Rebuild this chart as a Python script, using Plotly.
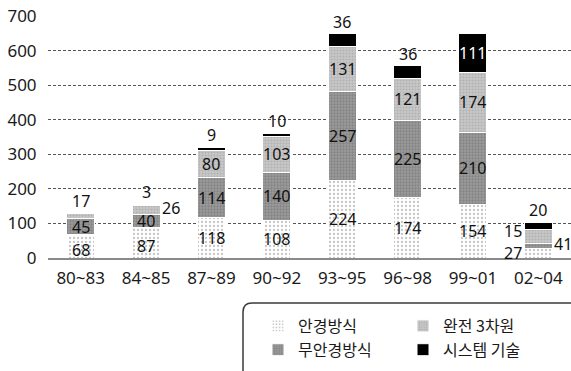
import plotly.graph_objects as go

categories = ["80~83", "84~85", "87~89", "90~92", "93~95", "96~98", "99~01", "02~04"]
series_names = ["안경방식", "무안경방식", "완전 3차원", "시스템 기술"]
glasses = [68, 87, 118, 108, 224, 174, 154, 27]
glassless = [45, 40, 114, 140, 257, 225, 210, 15]
full3d = [17, 26, 80, 103, 131, 121, 174, 41]
system = [0, 3, 9, 10, 36, 36, 111, 20]
y_ticks = [0, 100, 200, 300, 400, 500, 600, 700]

series_values = [glasses, glassless, full3d, system]

# styles
patterns = [
    dict(shape=".", bgcolor="#ffffff", fgcolor="#8a8a8a", size=4, solidity=0.25),
    dict(shape=".", bgcolor="#9c9c9c", fgcolor="#6a6a6a", size=3, solidity=0.45),
    dict(shape=".", bgcolor="#c8c8c8", fgcolor="#9a9a9a", size=3, solidity=0.4),
    None,
]
colors = ["#ffffff", "#8e8e8e", "#bdbdbd", "#000000"]
legend_ids = ["legend", "legend", "legend2", "legend2"]
label_colors = ["#111111", "#111111", "#111111", "#ffffff"]

NUM_FONT = "Noto Sans, DejaVu Sans, sans-serif"
KR_FONT = "Noto Sans CJK KR, Noto Sans, sans-serif"

fig = go.Figure()
for i, (name, vals) in enumerate(zip(series_names, series_values)):
    m = dict(color=colors[i], line=dict(color="#ffffff", width=1))
    if patterns[i]:
        m["pattern"] = patterns[i]
    fig.add_trace(go.Bar(
        x=categories, y=vals, name=name, marker=m, width=0.43,
        legend=legend_ids[i], showlegend=True,
    ))

# label placement overrides (series index, category index) -> style
BW = 14  # half bar in pixels
overrides = {
    (0, 0): dict(kind="in", yshift=-4),
    (0, 1): dict(kind="in", yshift=-3),
    (2, 0): dict(kind="above"),
    (2, 1): dict(kind="right", yshift=2),
    (3, 1): dict(kind="above"),
    (3, 2): dict(kind="above"),
    (3, 3): dict(kind="above"),
    (3, 4): dict(kind="above"),
    (3, 5): dict(kind="above"),
    (0, 7): dict(kind="left", yshift=0),
    (1, 7): dict(kind="left", yshift=15),
    (2, 7): dict(kind="right", yshift=-8),
    (3, 7): dict(kind="above"),
}

annotations = []
cum = [0] * len(categories)
for i, vals in enumerate(series_values):
    for j, v in enumerate(vals):
        base = cum[j]
        top = base + v
        cum[j] = top
        if v == 0:
            continue
        o = overrides.get((i, j), dict(kind="in"))
        kind = o["kind"]
        a = dict(x=categories[j], text=str(v), showarrow=False,
                 font=dict(family=NUM_FONT, size=16, color=label_colors[i]))
        if kind == "in":
            a.update(y=(base + top) / 2, yanchor="middle", xanchor="center",
                     yshift=o.get("yshift", 0))
        elif kind == "above":
            a.update(y=top, yanchor="bottom", xanchor="center", yshift=o.get("yshift", -1),
                     font=dict(family=NUM_FONT, size=16, color="#111111"))
        elif kind == "right":
            a.update(y=(base + top) / 2, yanchor="middle", xanchor="left",
                     xshift=BW, yshift=o.get("yshift", 0))
        elif kind == "left":
            a.update(y=(base + top) / 2, yanchor="middle", xanchor="right",
                     xshift=-BW, yshift=o.get("yshift", 0))
        annotations.append(a)

# legend frame (rounded, partly clipped by page edge)
L, T = 48, 16
PW, PH = 523, 242
def px(x):
    return (x - L) / PW
def py(y):
    return (T + PH - y) / PH
x0, x1, y0, y1, r = 243, 585, 303, 385, 9
path = (f"M {px(x0 + r)},{py(y0)} L {px(x1)},{py(y0)} L {px(x1)},{py(y1)} "
        f"L {px(x0 + r)},{py(y1)} Q {px(x0)},{py(y1)} {px(x0)},{py(y1 - r)} "
        f"L {px(x0)},{py(y0 + r)} Q {px(x0)},{py(y0)} {px(x0 + r)},{py(y0)} Z")

fig.update_layout(
    width=571, height=371,
    margin=dict(l=L, r=571 - L - PW, t=T, b=371 - T - PH),
    barmode="stack",
    plot_bgcolor="#ffffff", paper_bgcolor="#ffffff",
    font=dict(family=NUM_FONT, color="#1a1a1a"),
    xaxis=dict(
        type="category", range=[-0.5, 7.5],
        showgrid=False, showline=True, linecolor="#8a8a8a", linewidth=2,
        ticks="outside", ticklen=4, tickcolor="rgba(0,0,0,0)",
        tickfont=dict(family=NUM_FONT, size=17, color="#1a1a1a"),
    ),
    yaxis=dict(
        range=[0, 700], tickvals=y_ticks,
        showgrid=True, gridcolor="#555555", griddash="3px,2px", gridwidth=1,
        zeroline=False, showline=False,
        ticks="outside", ticklen=7, tickcolor="rgba(0,0,0,0)",
        tickfont=dict(family=NUM_FONT, size=17, color="#1a1a1a"),
    ),
    legend=dict(x=px(258), xanchor="left", y=py(309), yanchor="top",
                orientation="v", bgcolor="rgba(0,0,0,0)", tracegroupgap=0,
                traceorder="normal",
                font=dict(family=KR_FONT, size=16, color="#1a1a1a")),
    legend2=dict(x=px(403), xanchor="left", y=py(309), yanchor="top",
                 orientation="v", bgcolor="rgba(0,0,0,0)", tracegroupgap=0,
                 traceorder="normal",
                 font=dict(family=KR_FONT, size=16, color="#1a1a1a")),
    annotations=annotations,
    shapes=[dict(type="path", path=path, xref="paper", yref="paper",
                 line=dict(color="#3a3a3a", width=1.5), fillcolor="rgba(0,0,0,0)")],
    bargap=0.57,
)

fig.write_html("out.html")
